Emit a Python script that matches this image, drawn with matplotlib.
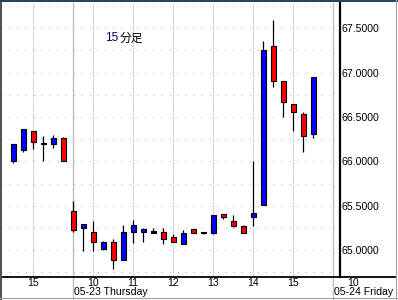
import matplotlib
matplotlib.use("Agg")
import matplotlib.pyplot as plt
from matplotlib.lines import Line2D
import matplotlib.transforms as mtransforms

plt.rcParams['font.family'] = ['Liberation Sans', 'DejaVu Sans']

# ---------------- data ----------------
times = ["05-22 14:30", "05-22 14:45", "05-22 15:00", "05-22 15:15", "05-22 15:30", "05-22 15:45",
         "05-23 09:30", "05-23 09:45", "05-23 10:00", "05-23 10:15", "05-23 10:30", "05-23 10:45",
         "05-23 11:00", "05-23 11:15", "05-23 11:30", "05-23 11:45", "05-23 12:00", "05-23 12:15",
         "05-23 12:30", "05-23 12:45", "05-23 13:00", "05-23 13:15", "05-23 13:30", "05-23 13:45",
         "05-23 14:00", "05-23 14:15", "05-23 14:30", "05-23 14:45", "05-23 15:00", "05-23 15:15",
         "05-23 15:30"]
opens = [66.00, 66.13, 66.34, 66.20, 66.20, 66.26,
         65.44, 65.25, 65.20, 65.01, 65.09, 64.89,
         65.20, 65.20, 65.205, 65.20, 65.145, 65.065,
         65.235, 65.195, 65.195, 65.405, 65.33, 65.27,
         65.375, 65.51, 67.30, 66.905, 66.645, 66.53,
         66.305]
highs = [66.20, 66.37, 66.34, 66.29, 66.30, 66.27,
         65.55, 65.29, 65.33, 65.105, 65.125, 65.28,
         65.34, 65.245, 65.245, 65.245, 65.18, 65.225,
         65.235, 65.20, 65.395, 65.405, 65.39, 65.28,
         66.00, 67.36, 67.595, 66.905, 66.645, 66.555,
         66.955]
lows = [65.98, 66.10, 66.14, 66.00, 66.15, 66.00,
        65.20, 64.99, 64.99, 65.005, 64.79, 64.89,
        65.08, 65.09, 65.20, 65.07, 65.085, 65.065,
        65.19, 65.18, 65.18, 65.345, 65.255, 65.195,
        65.275, 65.51, 66.84, 66.50, 66.345, 66.10,
        66.265]
closes = [66.195, 66.36, 66.22, 66.20, 66.26, 66.00,
          65.23, 65.29, 65.09, 65.09, 64.89, 65.20,
          65.28, 65.24, 65.205, 65.12, 65.085, 65.19,
          65.19, 65.195, 65.395, 65.37, 65.27, 65.195,
          65.415, 67.255, 66.905, 66.665, 66.555, 66.29,
          66.955]

hour_ticks = ["05-22 15:00", "05-23 10:00", "05-23 11:00", "05-23 12:00",
              "05-23 13:00", "05-23 14:00", "05-23 15:00", "05-24 10:00"]
hour_labels = ["15", "10", "11", "12", "13", "14", "15", "10"]
day_starts = ["05-23 09:30", "05-24 09:30"]
day_labels = ["05-23 Thursday", "05-24 Friday"]
price_ticks = [65.0, 65.5, 66.0, 66.5, 67.0, 67.5]
title_num = "15"
title_txt = "分足"

# ---------------- slot axis (15-minute slots, session 09:30-15:45) ----------------
session = ["%02d:%02d" % (h, m) for h in range(9, 16) for m in (0, 15, 30, 45)]
session = [s for s in session if "09:30" <= s <= "15:45"]
slots = [d + " " + s for d in ("05-22", "05-23", "05-24") for s in session]
first = slots.index(times[0])
slot_of = {t: i - first for i, t in enumerate(slots)}

xs = [slot_of[t] for t in times]

W, H = 398, 300
fig = plt.figure(figsize=(W / 100, H / 100), dpi=100)
fig.patch.set_facecolor("white")

# axes in pixel layout: left 2, right 395, top 3, bottom 277
ax = fig.add_axes([2 / W, (H - 277) / H, 393 / W, 274 / H])
ax.set_facecolor("white")
px = 10.0  # pixels per slot
ax.set_xlim(-1.1, -1.1 + 393 / px)
ax.set_ylim(64.696, 67.785)

price_axis_x = slot_of["05-24 09:30"] + 0.7

# grid: horizontal sparse dots, vertical dense dots
grid_levels = [64.75 + 0.25 * k for k in range(13)]
for g in grid_levels:
    ax.hlines(g, -1.1, price_axis_x - 0.5, colors="#a8a8a8", lw=0.8,
              linestyles=(0.3, (0.72, 6.48)), zorder=1)
for t in hour_ticks:
    if slot_of[t] < price_axis_x:
        ax.axvline(slot_of[t], color="#b0b0b0", lw=0.72, ls=(0, (0.72, 0.72)), zorder=1)
for d in day_starts:
    ax.axvline(slot_of[d], ymin=-23 / 274, ymax=1, color="#c0c0c0", lw=1.0,
               clip_on=False, zorder=1)

# candles
for x, o, h, l, c in zip(xs, opens, highs, lows, closes):
    ax.vlines(x, l, h, colors="black", lw=0.9, zorder=2)
    if c > o:
        col = "#0000ff"
    elif c < o:
        col = "#ff0000"
    else:
        col = "black"
    hgt = abs(c - o)
    bottom = min(o, c)
    if hgt < 0.012:
        bottom = o - 0.008
        hgt = 0.016
    ax.bar(x, hgt, bottom=bottom, width=0.5, color=col, edgecolor="black",
           linewidth=0.8, zorder=3)

# spines
for s in ("top", "left"):
    ax.spines[s].set_visible(False)
ax.spines["bottom"].set_linewidth(1.3)
ax.spines["right"].set_position(("data", price_axis_x))
ax.spines["right"].set_linewidth(1.6)

FS = 7.6
ax.yaxis.tick_right()
ax.set_yticks(price_ticks)
ax.set_yticklabels(["%.4f" % p for p in price_ticks])
ax.tick_params(axis="y", length=0, pad=1.0, labelsize=FS)

ax.set_xticks([slot_of[t] for t in hour_ticks])
ax.set_xticklabels(hour_labels)
ax.tick_params(axis="x", length=0, pad=1.0, labelsize=FS)

trans = mtransforms.blended_transform_factory(ax.transData, ax.transAxes)
for d, lab in zip(day_starts, day_labels):
    ax.text(slot_of[d] + 0.05, -18 / 274, lab, transform=trans, ha="left",
            va="baseline", fontsize=FS)

# title text
fig.text(105 / W, 1 - 38 / H, title_num, color="#000060", fontsize=8.5,
         ha="left", va="center")
fig.text(120 / W, 1 - 38 / H, title_txt, color="black", fontsize=8.5,
         family=["Noto Sans CJK JP", "DejaVu Sans"], ha="left", va="center")

# window frame
fig.add_artist(Line2D([0.5 / W, 0.5 / W], [0, 1], color="#505050", lw=1.4))
fig.add_artist(Line2D([0, 1], [1 - 0.7 / H, 1 - 0.7 / H], color="#283c64", lw=1.4))
fig.add_artist(Line2D([395.5 / W, 395.5 / W], [0, 1], color="#a0a0a0", lw=0.8))
fig.add_artist(Line2D([0, 1], [1 - 298 / H, 1 - 298 / H], color="#a0a0a0", lw=0.8))

fig.savefig("out.png", dpi=100)
